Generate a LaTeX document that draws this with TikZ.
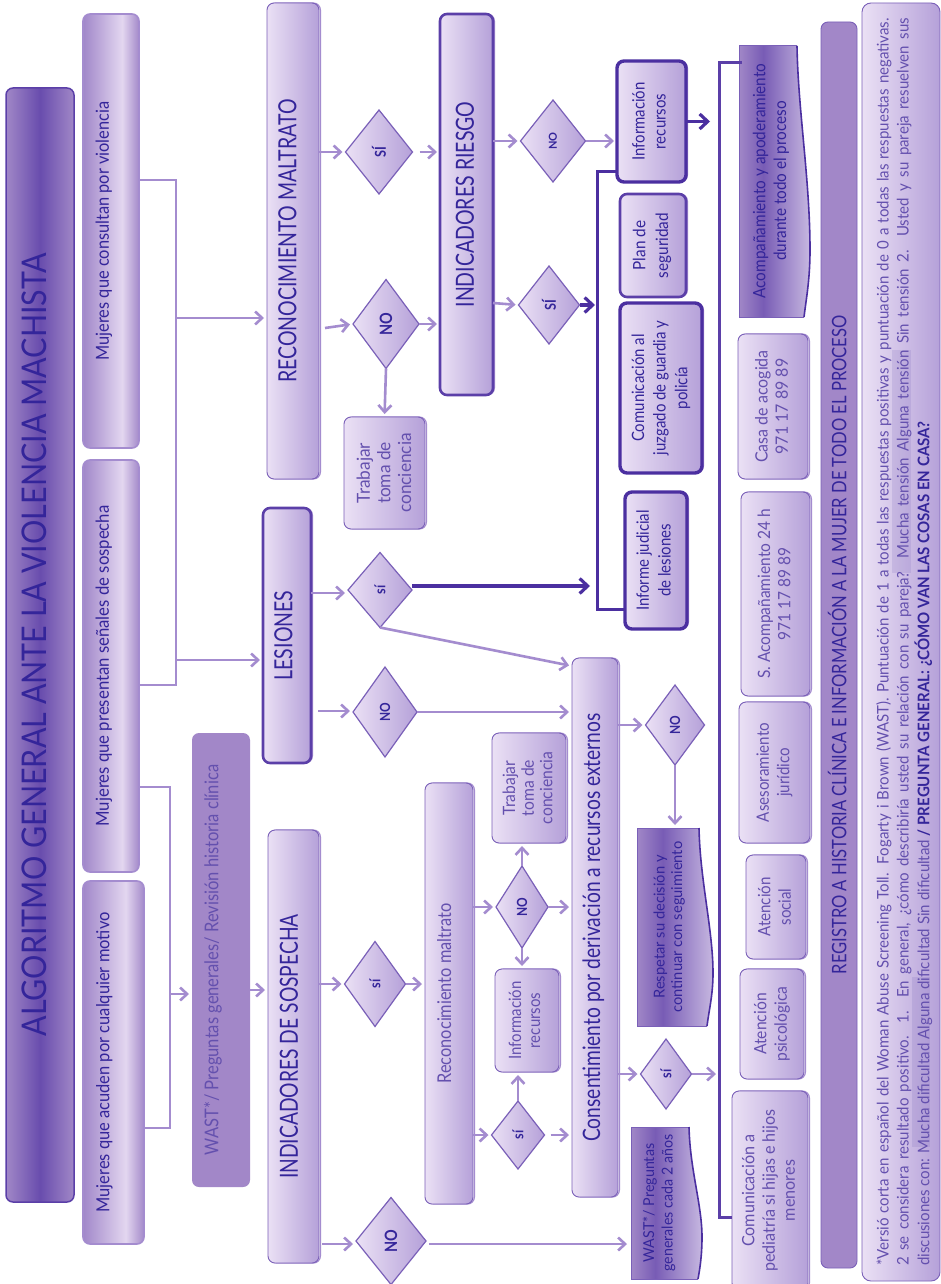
\documentclass[tikz,border=0pt]{standalone}
\usepackage{fontspec}
\setmainfont{Lato}
\usetikzlibrary{arrows.meta,shapes.geometric}
\definecolor{cline}{HTML}{A48CCF}
\definecolor{cdark}{HTML}{4B2FA0}
\definecolor{cbord}{HTML}{7A60B8}
\definecolor{cthick}{HTML}{5B3FA8}
\definecolor{csolid}{HTML}{A287C8}
\definecolor{ctxt}{HTML}{34259A}
\definecolor{cmid}{HTML}{6450AE}
\pgfdeclarehorizontalshading{lightgrad}{100bp}{rgb(0bp)=(.92,.88,.96);rgb(25bp)=(.92,.88,.96);rgb(75bp)=(.71,.63,.85);rgb(100bp)=(.71,.63,.85)}
\pgfdeclarehorizontalshading{womangrad}{100bp}{rgb(0bp)=(.63,.53,.79);rgb(25bp)=(.63,.53,.79);rgb(60bp)=(.89,.84,.94);rgb(75bp)=(.64,.54,.79);rgb(100bp)=(.64,.54,.79)}
\pgfdeclarehorizontalshading{titlegrad}{100bp}{rgb(0bp)=(.63,.53,.78);rgb(25bp)=(.63,.53,.78);rgb(50bp)=(.41,.30,.68);rgb(75bp)=(.63,.53,.78);rgb(100bp)=(.63,.53,.78)}
\pgfdeclarehorizontalshading{flaggrad}{100bp}{rgb(0bp)=(.63,.53,.78);rgb(25bp)=(.63,.53,.78);rgb(42bp)=(.47,.36,.71);rgb(75bp)=(.78,.72,.88);rgb(100bp)=(.78,.72,.88)}
\newcommand{\tsc}{0.82}
\newcommand{\bx}[8]{%
  \pgfmathsetmacro\cxx{(#2+#4)/2}\pgfmathsetmacro\cyy{(#3+#5)/2}%
  \pgfmathsetmacro\www{#4-#2}\pgfmathsetmacro\hhh{#5-#3}\pgfmathsetmacro\ddd{2*(#7)}%
  \node[#6,minimum width=\www pt,minimum height=\hhh pt] (#1) at (\cxx,\cyy)
   {\makebox[0pt]{\hspace*{\ddd pt}\rotatebox{90}{\scalebox{\tsc}[1]{\begin{tabular}{@{}c@{}}#8\end{tabular}}}}};}
\newcommand{\dm}[7]{%
  \pgfmathsetmacro\asp{(#4)/(#5)}%
  \node[dia,aspect=\asp,minimum width=#4 pt,minimum height=#5 pt,#7] (#1) at (#2,#3)
   {\makebox[0pt]{\rotatebox{90}{\scalebox{\tsc}[1]{#6}}}};}
\tikzset{
  x=1pt,y=-1pt,
  sc/.code={\def\tsc{#1}},
  base/.style={rectangle,rounded corners=7pt,inner sep=0pt,outer sep=0pt,align=center},
  fs/.style={font=\fontsize{#1}{#1}\selectfont},
  lite/.style={preaction={draw=cline,line width=1.2pt,transform canvas={xshift=1.4pt}}},
  lbox/.style={base,lite,draw=cbord,line width=.9pt,shading=lightgrad,text=cmid},
  capbox/.style={lbox,text=ctxt},
  wbox/.style={base,draw=cline,line width=1.6pt,shading=womangrad,text=ctxt},
  titlebox/.style={base,draw=cthick,line width=1.5pt,shading=titlegrad,text=ctxt},
  sbox/.style={base,fill=csolid,draw=none,text=cmid},
  tbox/.style={lbox,draw=cthick,line width=2.6pt,text=ctxt},
  xbox/.style={lbox,draw=cdark,line width=3.4pt,text=ctxt},
  flagbox/.style={rectangle,inner sep=0pt,outer sep=0pt,text=ctxt},
  flagshape/.style={shading=flaggrad},
  flagedge/.style={draw=cdark,line width=1.6pt},
  flagrim/.style={draw=cbord,line width=1pt},
  dia/.style={diamond,inner sep=0pt,outer sep=0pt,draw=cbord,line width=1.2pt,shading=lightgrad,text=ctxt,font=\bfseries},
  conn/.style={draw=cline,line width=2.6pt},
  arr/.style={conn,-{Straight Barb[length=7pt,width=13pt,line width=2.6pt]},shorten >=3pt},
  darr/.style={draw=cdark,line width=3.2pt,-{Straight Barb[length=8pt,width=15pt,line width=3.2pt]}},
  dconn/.style={draw=cdark,line width=3pt},
  mconn/.style={draw=cthick,line width=3pt},
  hl/.style={fill=cmid,fill opacity=.14,draw=none},
}
\begin{document}
\begin{tikzpicture}
\useasboundingbox (0,0) rectangle (941,1284);
\fill[white] (0,0) rectangle (941,1284);
% top level boxes
\bx{title}{6}{88}{74}{1202}{titlebox,fs=34,sc=.895}{-1}{ALGORITMO GENERAL ANTE LA VIOLENCIA MACHISTA}
\bx{mA}{83}{14}{139}{448}{wbox,fs=18,sc=.91}{-6}{Mujeres que consultan por violencia}
\bx{mB}{83}{460}{139}{872}{wbox,fs=18,sc=.93}{-6}{Mujeres que presentan señales de sospecha}
\bx{mC}{83}{881}{144}{1244}{wbox,fs=18,sc=.915}{-8}{Mujeres que acuden por cualquier motivo}
\bx{wast}{192}{733}{250}{1187}{sbox,fs=19,sc=.87}{-7}{WAST*/ Preguntas generales/ Revisión historia clínica}
\bx{recon}{267}{3}{319}{479}{capbox,fs=25,sc=.78}{-2}{RECONOCIMIENTO MALTRATO}
\bx{les}{263}{508}{311}{763}{tbox,fs=25,sc=.78}{0}{LESIONES}
\bx{ind}{268}{830}{319}{1263}{capbox,fs=25,sc=.77}{-1}{INDICADORES DE SOSPECHA}
\bx{rec}{425}{783}{473}{1204}{lbox,fs=19,sc=.86}{-2}{Reconocimiento maltrato}
\bx{trA}{344}{417}{425}{529}{lbox,fs=18,sc=.96}{2}{Trabajar\\[2pt]toma de\\[2pt]conciencia}
\bx{trB}{492}{733}{566}{843}{lbox,fs=17,sc=.92}{1}{Trabajar\\[1pt]toma de\\[1pt]conciencia}
\bx{rie}{440}{14}{493}{395}{tbox,fs=25,sc=.78}{2}{INDICADORES RIESGO}
\bx{con}{572}{658}{618}{1197}{capbox,fs=24,sc=.8}{0}{Consentimiento por derivación a recursos externos}
\bx{infS}{495}{969}{559}{1072}{lbox,fs=17,sc=.88}{0}{Información\\[2pt]recursos}
\bx{infT}{617}{61}{686}{182}{xbox,fs=17,sc=.88}{0}{Información\\[4pt]recursos}
\bx{plan}{620}{194}{686}{297}{tbox,fs=17,sc=.9}{0}{Plan de\\[5pt]seguridad}
\bx{juz}{620}{303}{702}{473}{xbox,fs=17,sc=.88}{1}{Comunicación al\\[4pt]juzgado de guardia y\\[4pt]policía}
\bx{inf}{625}{492}{687}{629}{xbox,fs=17,sc=.88}{0}{Informe judicial\\[4pt]de lesiones}
\bx{casa}{738}{334}{808}{479}{lbox,fs=17,sc=.94}{1}{Casa de acogida\\[3pt]971 17 89 89}
\bx{acom}{741}{492}{810}{696}{lbox,fs=17,sc=.91}{1}{S. Acompañamiento 24 h\\[3pt]971 17 89 89}
\bx{ases}{739}{702}{810}{843}{lbox,fs=17,sc=.89}{1}{Asesoramiento\\[3pt]jurídico}
\bx{soc}{746}{855}{806}{959}{lbox,fs=17,sc=.89}{1}{Atención\\[3pt]social}
\bx{psi}{740}{969}{804}{1079}{lbox,fs=17,sc=.92}{1}{Atención\\[3pt]psicológica}
\bx{ped}{732}{1091}{808}{1290}{lbox,fs=17,sc=.95}{1}{Comunicación a\\[3pt]pediatría si hijas e hijos\\[3pt]menores}
\bx{reg}{821}{22}{857}{1268}{sbox,draw=cbord,line width=.9pt,text=ctxt,fs=20,sc=.83}{1}{REGISTRO A HISTORIA CLÍNICA E INFORMACIÓN A LA MUJER DE TODO EL PROCESO}
% foot box
\node[base,rounded corners=9pt,draw=cbord,line width=.9pt,shading=lightgrad,minimum width=78pt,minimum height=1278pt] (foot) at (901,642) {};
\fill[hl] (892,350) rectangle (911,573);
\fill[hl] (912,977) rectangle (930,1147);
\node[inner sep=0pt,outer sep=0pt,text=cmid,font=\fontsize{16}{20}\selectfont,sc=.94,xshift=4pt] (foottext) at (foot.center) {\rotatebox{90}{\scalebox{\tsc}[1]{\begin{tabular}{@{}l@{}}
\makebox[1327pt][s]{*Versió corta en español del Woman Abuse Screening Toll. Fogarty i Brown (WAST). Puntuación de 1 a todas las respuestas positivas y puntuación de 0 a todas las respuestas negativas.}\\
\makebox[1327pt][s]{2 se considera resultado positivo. 1. En general, ¿cómo describiría usted su relación con su pareja? Mucha tensión Alguna tensión Sin tensión 2. Usted y su pareja resuelven sus}\\
discusiones con: Mucha dificultad Alguna dificultad Sin dificultad {\color{ctxt}\bfseries/ PREGUNTA GENERAL: ¿CÓMO VAN LAS COSAS EN CASA?}
\end{tabular}}}};
% wavy boxes
\path[flagshape] (739,46) -- (797,46) .. controls (798,110) and (810,180) .. (810,250) .. controls (810,280) and (806,300) .. (804,317) -- (739,317) -- cycle;
\draw[flagrim] (797,46) -- (739,46) -- (739,317) -- (804,317);
\draw[flagedge] (797,46) .. controls (798,110) and (810,180) .. (810,250) .. controls (810,280) and (806,300) .. (804,317);
\node[flagbox,fs=17,sc=.9,minimum width=60pt,minimum height=271pt] (acp) at (772,181) {\rotatebox{90}{\scalebox{\tsc}[1]{\begin{tabular}{@{}c@{}}Acompañamiento y apoderamiento\\[3pt]durante todo el proceso\end{tabular}}}};
\path[flagshape] (637,828) -- (699,828) .. controls (700,880) and (713,930) .. (713,973) .. controls (713,995) and (709,1010) .. (707,1026) -- (637,1026) -- cycle;
\draw[flagrim] (699,828) -- (637,828) -- (637,1026) -- (707,1026);
\draw[flagedge] (699,828) .. controls (700,880) and (713,930) .. (713,973) .. controls (713,995) and (709,1010) .. (707,1026);
\node[flagbox,fs=15,sc=.98,minimum width=60pt,minimum height=198pt] (res) at (670,927) {\rotatebox{90}{\scalebox{\tsc}[1]{\begin{tabular}{@{}c@{}}Respetar su decisión y\\[2pt]continuar con seguimiento\end{tabular}}}};
\path[flagshape] (631,1127) -- (689,1127) .. controls (690,1170) and (702,1205) .. (702,1237) .. controls (702,1255) and (700,1268) .. (698,1279) -- (631,1279) -- cycle;
\draw[flagrim] (689,1127) -- (631,1127) -- (631,1279) -- (698,1279);
\draw[flagedge] (689,1127) .. controls (690,1170) and (702,1205) .. (702,1237) .. controls (702,1255) and (700,1268) .. (698,1279);
\node[flagbox,fs=15,sc=.95,minimum width=60pt,minimum height=152pt] (wb) at (660,1203) {\rotatebox{90}{\scalebox{\tsc}[1]{\begin{tabular}{@{}c@{}}WAST*/ Preguntas\\[3pt]generales cada 2 años\end{tabular}}}};
% diamonds
\dm{dA}{379}{152}{67}{84}{\fontsize{15}{15}\selectfont SÍ}{sc=.85}
\dm{dB}{386}{324}{66}{89}{\fontsize{17}{17}\selectfont NO}{sc=.85}
\dm{dC}{380}{590}{64}{75}{\fontsize{15}{15}\selectfont sí}{sc=.85}
\dm{dD}{385}{712}{64}{90}{\fontsize{14}{14}\selectfont NO}{sc=.85}
\dm{dE}{375}{984}{61}{85}{\fontsize{15}{15}\selectfont sí}{sc=.85}
\dm{dF}{391}{1241}{70}{87}{\fontsize{17}{17}\selectfont NO}{sc=.85}
\dm{dG}{549}{305}{61}{78}{\fontsize{15}{15}\selectfont SÍ}{sc=.85}
\dm{dH}{553}{141}{65}{82}{\fontsize{11}{11}\selectfont NO}{sc=1}
\dm{dI}{675}{725}{59}{80}{\fontsize{14}{14}\selectfont NO}{sc=.85}
\dm{dJ}{666}{1074}{51}{70}{\fontsize{15}{15}\selectfont sí}{sc=.85}
\dm{dK}{522}{907}{52}{82}{\fontsize{14}{14}\selectfont NO}{sc=.85}
\dm{dL}{518}{1135}{53}{68}{\fontsize{15}{15}\selectfont sí}{sc=.85}
% buses
\coordinate (busA) at (176,180);
\coordinate (busB) at (170,787);
\coordinate (busC) at (597,172);
\coordinate (busD) at (719,63);
\draw[conn] (mA.east|-busA) -- (busA) -- (busA|-0,685) -- (mB.east|-0,685);
\draw[arr] (busA|-0,318) -- (recon.west|-0,318);
\draw[arr] (busA|-0,660) -- (les.west|-0,660);
\draw[conn] (mB.east|-busB) -- (busB) -- (busB|-0,1128) -- (mC.east|-0,1128);
\draw[arr] (busB|-0,994) -- (wast.west|-0,994);
\draw[arr] (wast.east|-0,990) -- (ind.west|-0,990);
% upper flow
\draw[arr] (recon.east|-dA.west) -- (dA.west);
\draw[arr] (dA.east)++(7,0) -- (rie.west|-dA.east);
\draw[arr] (recon.east|-0,328) ++(6,0) -- (dB.west);
\draw[arr] (dB.east) -- (rie.west|-dB.east);
\draw[arr] (dB.south) -- (trA.north);
\draw[arr] (rie.east|-0,303) -- (dG.west);
\draw[arr] (rie.east|-dH.west) -- (dH.west);
\draw[arr] (dH.east) -- (infT.west|-dH.east);
\draw[darr,shorten >=2pt] (dG.east) -- (busC|-dG.east);
\draw[dconn] (infT.west|-busC) -- (busC) -- (busC|-0,609) -- (inf.west|-0,609);
\draw[darr,shorten >=9pt] (infT.east) -- (busD|-infT.east);
\draw[mconn] (acp.west|-busD) -- (busD) -- (busD|-0,1217) -- (ped.west|-0,1217);
% lesiones
\draw[arr] (les.east|-0,593) -- (dC.west|-0,593);
\draw[arr] (les.east|-0,711) ++(7,0) -- (dD.west|-0,711);
\draw[darr,shorten >=7pt] (dC.east|-0,586) -- (busC|-0,586);
\draw[arr] (dC.south) -- (con.west|-0,666);
\draw[arr] (dD.east) -- (con.west|-dD.east);
% sospecha
\draw[arr] (ind.east|-dE.west) -- (dE.west);
\draw[arr] (dE.east) -- (rec.west|-dE.east);
\draw[arr] (ind.east|-0,1244) ++(3,0) -- (dF.west|-0,1244);
\draw[arr] (dF.east|-0,1244) ++(3,0) -- (wb.west|-0,1244);
\draw[arr] (rec.east|-dK.west) -- (dK.west);
\draw[arr] (rec.east|-dL.west) -- (dL.west);
\draw[arr] (dK.south) -- (infS.north-|dK.south);
\draw[arr] (dK.north) -- (trB.south-|dK.north);
\draw[arr] (dK.east) -- (con.west|-dK.east);
\draw[arr] (dL.north) -- (infS.south-|dL.north);
\draw[arr] (dL.east) ++(6,0) -- (con.west|-dL.east);
\draw[arr] (con.east|-dI.west) -- (dI.west);
\draw[arr] (dI.south) -- (res.north-|dI.south);
\draw[arr] (con.east|-dJ.west) -- (dJ.west);
\draw[arr] (dJ.east) -- (busD|-dJ.east);
\end{tikzpicture}
\end{document}
